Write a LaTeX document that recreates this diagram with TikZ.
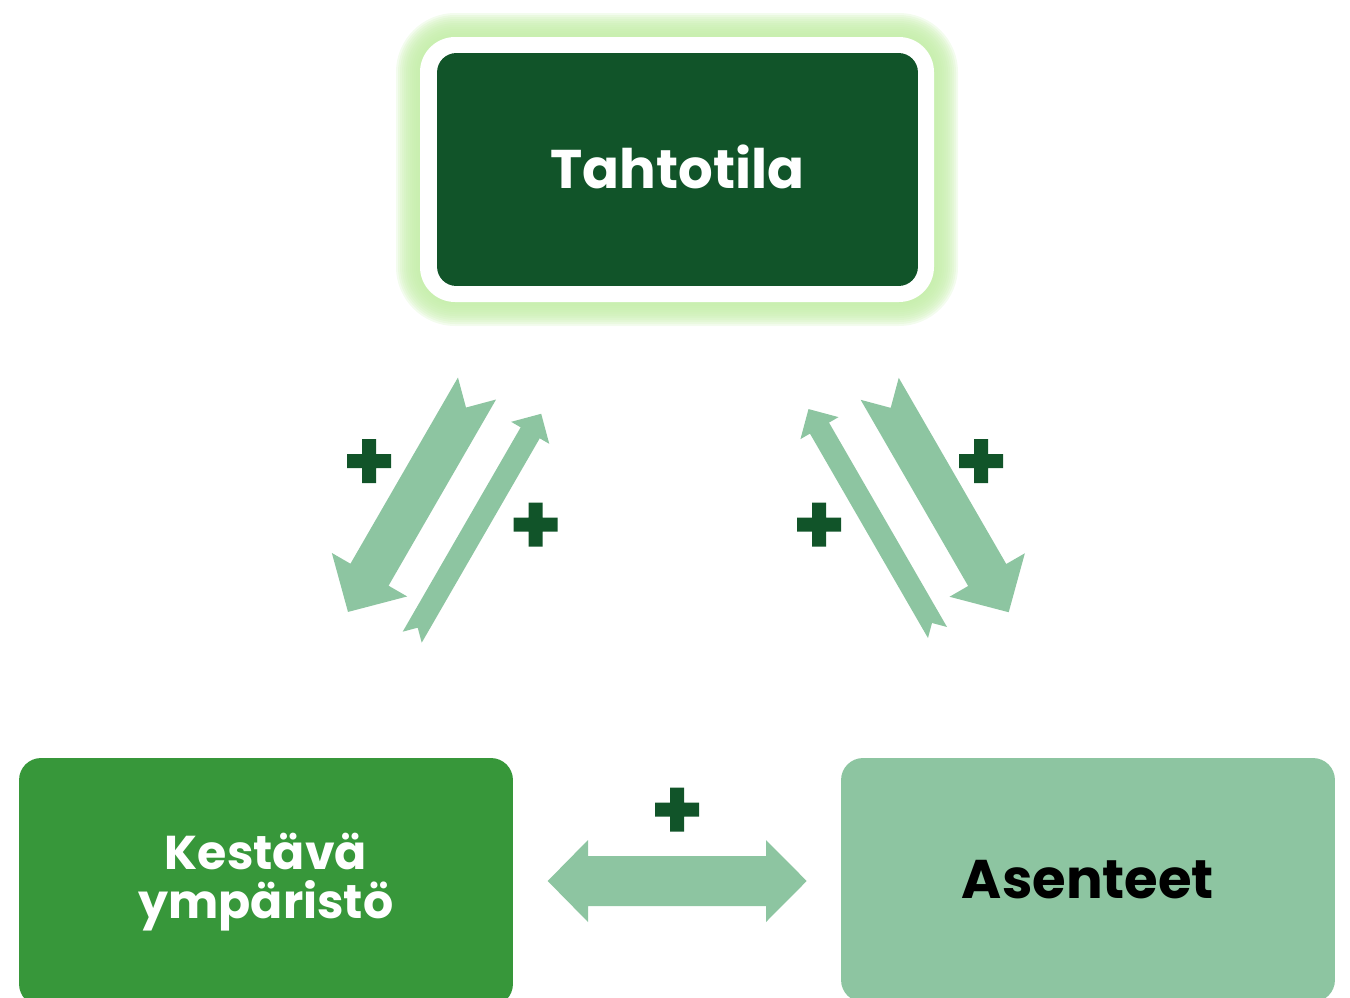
\documentclass[tikz,border=0pt]{standalone}
\usepackage{fontspec}
\setmainfont{Poppins}
\definecolor{dark}{HTML}{115429}
\definecolor{mid}{HTML}{37973A}
\definecolor{light}{HTML}{8DC5A1}
\definecolor{glow}{HTML}{C5EEAA}
\tikzset{
  box/.style={inner sep=0pt, font=\bfseries\fontsize{31}{36}\selectfont, align=center},
}
\newcommand{\blockarrow}[5]{%
\begin{scope}[shift={(#1)}, rotate=#2]
\fill[light] (0,#3/2)--(258-#5,#3/2)--(258-#5,#4/2)--(258,0)--(258-#5,-#4/2)--(258-#5,-#3/2)--(0,-#3/2)--(#3/2,0)--cycle;
\end{scope}}
\newcommand{\plusmark}[1]{%
\fill[dark,shift={(#1)}] (-22,-7) rectangle (22,7) (-7,-22) rectangle (7,22);}
\begin{document}
\begin{tikzpicture}[x=0.02cm, y=-0.02cm]
\useasboundingbox (0,0) rectangle (1350,998);
\clip (0,0) rectangle (1350,998);
\foreach \d in {24,22,...,2}
    \fill[glow, opacity=.2, rounded corners=20pt+\d*0.57pt] (420-\d,37-\d) rectangle (934+\d,302+\d);
\fill[white, rounded corners=20pt] (420,37) rectangle (934,302);
\node[box, fill=dark, text=white, minimum width=9.62cm, minimum height=4.66cm, rounded corners=11pt] (tahto) at (677.5,169.5) {\raisebox{3pt}{Tahtotila}};
\node[box, fill=mid, text=white, minimum width=9.88cm, minimum height=4.96cm, rounded corners=12.5pt,
      font=\bfseries\fontsize{27}{28}\selectfont] (ymparisto) at (266,882) {Kestävä\\ympäristö};
\node[box, fill=light, text=black, minimum width=9.88cm, minimum height=4.88cm, rounded corners=12.5pt] (asenteet) at (1088,880) {Asenteet};
\blockarrow{477,388.5}{240}{44}{87}{43}
\blockarrow{412.2,637.2}{60}{22}{44}{22}
\blockarrow{879.7,388.8}{-60}{44}{87}{43}
\blockarrow{937.5,632.5}{120}{22}{44}{22}
\fill[light] (547.7,881)--(588,840)--(588,856)--(766,856)--(766,840)--(806.7,881)--(766,922)--(766,906)--(588,906)--(588,922)--cycle;
\plusmark{369,461}
\plusmark{535.5,524.7}
\plusmark{981,461}
\plusmark{819,524.7}
\plusmark{677,809.5}
\end{tikzpicture}
\end{document}
